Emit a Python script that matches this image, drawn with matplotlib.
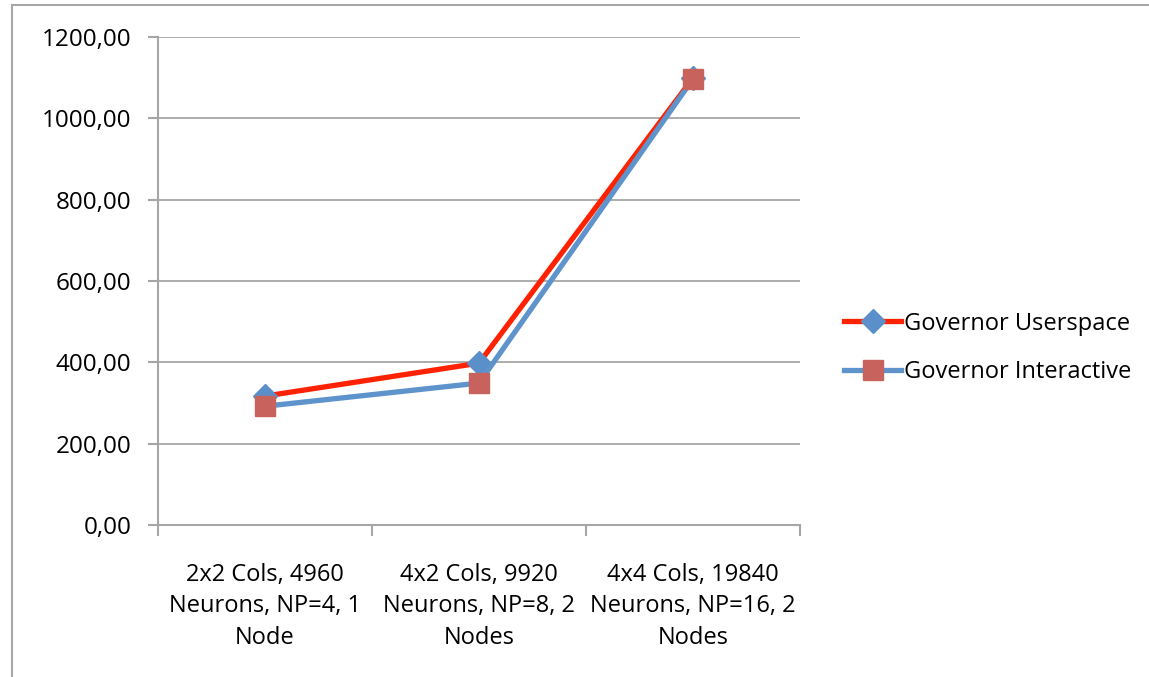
import matplotlib
matplotlib.use("Agg")
import matplotlib.pyplot as plt
from matplotlib.patches import Rectangle

categories = ["2x2 Cols, 4960\nNeurons, NP=4, 1\nNode",
              "4x2 Cols, 9920\nNeurons, NP=8, 2\nNodes",
              "4x4 Cols, 19840\nNeurons, NP=16, 2\nNodes"]
userspace = [317, 398, 1099]
interactive = [292, 349, 1097]
yticks = [0, 200, 400, 600, 800, 1000, 1200]

plt.rcParams['font.family'] = ['Open Sans', 'DejaVu Sans']

fig = plt.figure(figsize=(11.49, 6.77), dpi=100)
fig.patches.append(Rectangle((12/1149, -0.1), 1.2, 1 - 5/677 + 0.1, transform=fig.transFigure,
                             fill=False, edgecolor='#a6a6a6', linewidth=1.5, zorder=0))
ax = fig.add_axes([158/1149, 1 - 525/677, (800 - 158)/1149, (525 - 37)/677])

x = list(range(len(categories)))
ax.plot(x, userspace, color='#ff2200', linewidth=3.8, marker='D', markersize=12.5,
        markerfacecolor='#5b8fc9', markeredgecolor='#5b8fc9', label='Governor Userspace', zorder=3)
ax.plot(x, interactive, color='#5e93cc', linewidth=3.8, marker='s', markersize=15,
        markerfacecolor='#c8625c', markeredgecolor='#c8625c', label='Governor Interactive', zorder=4)

ax.set_xlim(-0.5, 2.5)
ax.set_ylim(0, 1200)
ax.set_yticks(yticks)
ax.set_yticklabels([f"{v:.2f}".replace('.', ',') for v in yticks], fontsize=17.5)
ax.set_xticks(x)
ax.set_xticklabels(categories, fontsize=17, linespacing=1.42)
ax.set_xticks([-0.5, 0.5, 1.5, 2.5], minor=True)
ax.tick_params(axis='x', which='major', length=0, pad=27)
ax.tick_params(axis='x', which='minor', length=8, color='#a6a6a6', width=1.5)
ax.tick_params(axis='y', length=7, color='#a6a6a6', width=1.5, pad=12)
ax.grid(axis='y', color='#a6a6a6', linewidth=1.3)
ax.set_axisbelow(True)
for s in ['top', 'right']:
    ax.spines[s].set_visible(False)
for s in ['left', 'bottom']:
    ax.spines[s].set_color('#a6a6a6')
    ax.spines[s].set_linewidth(1.5)

fig.legend(loc='center left', bbox_to_anchor=(823/1149, 1 - 348/677), frameon=False,
           fontsize=17, handlelength=2.4, handletextpad=0.15, labelspacing=1.05)

fig.savefig("out.png", dpi=100)
